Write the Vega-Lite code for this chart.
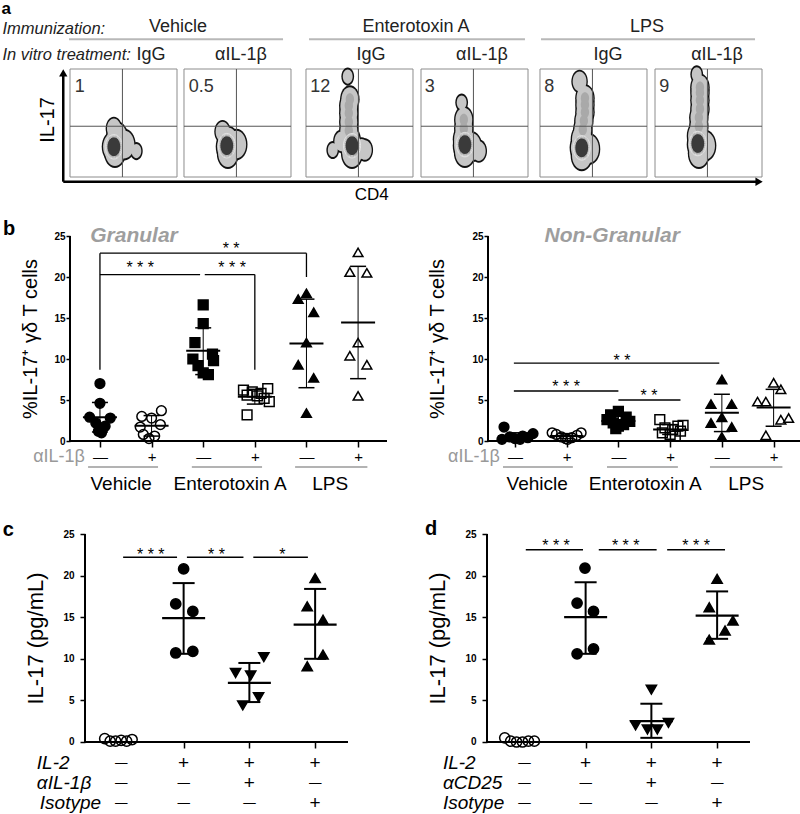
{
"$schema": "https://vega.github.io/schema/vega-lite/v6.json",
"padding": 0,
"background": "white",
"spacing": 0,
"resolve": {"scale": {"shape": "independent", "fill": "independent"}},
"config": {"view": {"stroke": null}, "font": "Liberation Sans", "text": {"font": "Liberation Sans"}, "axis": {"labelFont": "Liberation Sans", "titleFont": "Liberation Sans"}, "concat": {"spacing": 0}},
"datasets": {
"abox": [{"x":0,"x2":1,"y":0,"y2":1},{"x":1.0654,"x2":2.0654,"y":0,"y2":1},{"x":2.2056,"x2":3.2056,"y":0,"y2":1},{"x":3.2804,"x2":4.2804,"y":0,"y2":1},{"x":4.3925,"x2":5.3925,"y":0,"y2":1},{"x":5.4673,"x2":6.4673,"y":0,"y2":1}],
"aquad": [{"x":0.49,"x2":0.49,"y":0,"y2":1},{"x":0,"x2":1,"y":0.47,"y2":0.47},
{"x":1.5554,"x2":1.5554,"y":0,"y2":1},{"x":1.0654,"x2":2.0654,"y":0.47,"y2":0.47},
{"x":2.6956,"x2":2.6956,"y":0,"y2":1},{"x":2.2056,"x2":3.2056,"y":0.47,"y2":0.47},
{"x":3.7704,"x2":3.7704,"y":0,"y2":1},{"x":3.2804,"x2":4.2804,"y":0.47,"y2":0.47},
{"x":4.8825,"x2":4.8825,"y":0,"y2":1},{"x":4.3925,"x2":5.3925,"y":0.47,"y2":0.47},
{"x":5.9573,"x2":5.9573,"y":0,"y2":1},{"x":5.4673,"x2":6.4673,"y":0.47,"y2":0.47}],
"ablob": [{"x":0.40,"y":0.28,"p":"b"},{"x":0.42,"y":0.23,"p":"b"},{"x":0.44,"y":0.37,"p":"b"},{"x":0.51,"y":0.30,"p":"b"},{"x":0.41,"y":0.45,"p":"s"},{"x":0.62,"y":0.24,"p":"d"},
{"x":1.4654,"y":0.28,"p":"b"},{"x":1.4754,"y":0.22,"p":"b"},{"x":1.4754,"y":0.33,"p":"b"},{"x":1.5554,"y":0.30,"p":"b"},{"x":1.4254,"y":0.42,"p":"s"},
{"x":2.6256,"y":0.28,"p":"b"},{"x":2.6356,"y":0.22,"p":"b"},{"x":2.6156,"y":0.34,"p":"b"},{"x":2.6056,"y":0.43,"p":"t"},{"x":2.6056,"y":0.51,"p":"t"},{"x":2.6056,"y":0.59,"p":"t"},{"x":2.6056,"y":0.66,"p":"t"},{"x":2.6156,"y":0.72,"p":"t"},{"x":2.7256,"y":0.26,"p":"s"},{"x":2.7556,"y":0.25,"p":"s"},{"x":2.5356,"y":0.33,"p":"s"},{"x":2.5956,"y":0.93,"p":"d"},{"x":2.4556,"y":0.25,"p":"d"},
{"x":3.6804,"y":0.29,"p":"b"},{"x":3.6904,"y":0.23,"p":"b"},{"x":3.6804,"y":0.35,"p":"b"},{"x":3.7504,"y":0.28,"p":"b"},{"x":3.6804,"y":0.45,"p":"t"},{"x":3.6804,"y":0.53,"p":"t"},{"x":3.8204,"y":0.24,"p":"s"},{"x":3.6604,"y":0.69,"p":"d"},
{"x":4.7725,"y":0.27,"p":"b"},{"x":4.7825,"y":0.20,"p":"b"},{"x":4.7825,"y":0.35,"p":"b"},{"x":4.8525,"y":0.26,"p":"b"},{"x":4.7925,"y":0.44,"p":"t"},{"x":4.8025,"y":0.52,"p":"t"},{"x":4.8125,"y":0.60,"p":"t"},{"x":4.8125,"y":0.67,"p":"t"},{"x":4.8125,"y":0.73,"p":"t"},{"x":4.7625,"y":0.885,"p":"s"},
{"x":5.8673,"y":0.30,"p":"b"},{"x":5.8773,"y":0.22,"p":"b"},{"x":5.8673,"y":0.38,"p":"b"},{"x":5.9373,"y":0.29,"p":"b"},{"x":5.8773,"y":0.47,"p":"t"},{"x":5.8773,"y":0.55,"p":"t"},{"x":5.8873,"y":0.63,"p":"t"},{"x":5.8873,"y":0.71,"p":"t"},{"x":5.8873,"y":0.78,"p":"t"},{"x":5.8873,"y":0.83,"p":"t"},{"x":5.8573,"y":0.95,"p":"d"}],
"arings": [{"x":0.41,"y":0.28,"r":1},{"x":0.41,"y":0.28,"r":2},{"x":0.41,"y":0.28,"r":3},{"x":0.41,"y":0.28,"r":4},
{"x":1.4654,"y":0.29,"r":1},{"x":1.4654,"y":0.29,"r":2},{"x":1.4654,"y":0.29,"r":3},{"x":1.4654,"y":0.29,"r":4},
{"x":2.6356,"y":0.29,"r":1},{"x":2.6356,"y":0.29,"r":2},{"x":2.6356,"y":0.29,"r":3},{"x":2.6356,"y":0.29,"r":4},
{"x":3.6904,"y":0.30,"r":1},{"x":3.6904,"y":0.30,"r":2},{"x":3.6904,"y":0.30,"r":3},{"x":3.6904,"y":0.30,"r":4},
{"x":4.7825,"y":0.27,"r":1},{"x":4.7825,"y":0.27,"r":2},{"x":4.7825,"y":0.27,"r":3},{"x":4.7825,"y":0.27,"r":4},
{"x":5.8673,"y":0.31,"r":1},{"x":5.8673,"y":0.31,"r":2},{"x":5.8673,"y":0.31,"r":3},{"x":5.8673,"y":0.31,"r":4}],
"gp": [{"x":1.0,"y":7.0,"k":1},{"x":1.0,"y":4.6,"k":1},{"x":0.8,"y":2.9,"k":1},{"x":1.2,"y":2.8,"k":1},{"x":0.92,"y":2.2,"k":1},{"x":1.1,"y":1.8,"k":1},{"x":0.97,"y":1.2,"k":1},{"x":1.03,"y":1.0,"k":1},
{"x":2.19,"y":3.7,"k":2},{"x":1.81,"y":3.0,"k":2},{"x":2.0,"y":2.8,"k":2},{"x":2.17,"y":2.0,"k":2},{"x":1.78,"y":1.7,"k":2},{"x":1.84,"y":0.8,"k":2},{"x":2.06,"y":0.6,"k":2},{"x":1.95,"y":0.3,"k":2},
{"x":3.0,"y":16.6,"k":3},{"x":3.0,"y":14.3,"k":3},{"x":2.84,"y":12.0,"k":3},{"x":3.18,"y":10.6,"k":3},{"x":2.8,"y":10.0,"k":3},{"x":3.2,"y":9.8,"k":3},{"x":2.9,"y":9.2,"k":3},{"x":3.0,"y":8.3,"k":3},{"x":3.1,"y":8.1,"k":3},
{"x":4.25,"y":6.4,"k":4},{"x":3.78,"y":6.2,"k":4},{"x":3.95,"y":6.0,"k":4},{"x":4.12,"y":5.8,"k":4},{"x":3.85,"y":5.6,"k":4},{"x":4.05,"y":5.5,"k":4},{"x":4.18,"y":5.2,"k":4},{"x":4.28,"y":4.8,"k":4},{"x":3.85,"y":3.2,"k":4},
{"x":5.0,"y":18.0,"k":5},{"x":4.84,"y":17.3,"k":5},{"x":5.14,"y":15.7,"k":5},{"x":5.0,"y":12.0,"k":5},{"x":4.84,"y":9.3,"k":5},{"x":5.14,"y":7.7,"k":5},{"x":5.0,"y":3.4,"k":5},
{"x":6.0,"y":23.0,"k":6},{"x":5.84,"y":20.6,"k":6},{"x":6.17,"y":20.5,"k":6},{"x":6.0,"y":12.0,"k":6},{"x":5.84,"y":10.4,"k":6},{"x":6.17,"y":9.3,"k":6},{"x":6.0,"y":5.5,"k":6}],
"gs": [{"x":1,"y":2.9,"lo":1.1,"hi":4.7},{"x":2,"y":1.85,"lo":0.6,"hi":3.1},{"x":3,"y":11.0,"lo":8.1,"hi":13.8},{"x":4,"y":5.4,"lo":4.5,"hi":6.3},{"x":5,"y":11.9,"lo":6.5,"hi":17.3},{"x":6,"y":14.45,"lo":7.6,"hi":21.3}],
"np": [{"x":0.79,"y":1.7,"k":1},{"x":1.35,"y":0.9,"k":1},{"x":1.15,"y":0.6,"k":1},{"x":0.9,"y":0.5,"k":1},{"x":1.25,"y":0.4,"k":1},{"x":1.0,"y":0.3,"k":1},{"x":0.75,"y":0.2,"k":1},{"x":1.1,"y":0.2,"k":1},
{"x":1.72,"y":1.0,"k":2},{"x":2.28,"y":1.0,"k":2},{"x":1.8,"y":0.8,"k":2},{"x":2.2,"y":0.7,"k":2},{"x":1.9,"y":0.5,"k":2},{"x":2.1,"y":0.4,"k":2},{"x":1.98,"y":0.3,"k":2},{"x":2.02,"y":0.2,"k":2},
{"x":3.0,"y":3.6,"k":3},{"x":2.85,"y":3.2,"k":3},{"x":3.15,"y":2.9,"k":3},{"x":2.78,"y":2.6,"k":3},{"x":3.22,"y":2.4,"k":3},{"x":2.9,"y":2.2,"k":3},{"x":3.1,"y":2.0,"k":3},{"x":3.0,"y":1.8,"k":3},{"x":2.95,"y":1.5,"k":3},
{"x":3.8,"y":2.6,"k":4},{"x":4.25,"y":1.9,"k":4},{"x":4.15,"y":1.8,"k":4},{"x":3.9,"y":1.6,"k":4},{"x":4.05,"y":1.4,"k":4},{"x":4.2,"y":1.2,"k":4},{"x":3.85,"y":1.0,"k":4},{"x":4.0,"y":0.8,"k":4},{"x":4.1,"y":0.6,"k":4},
{"x":5.0,"y":7.5,"k":5},{"x":4.79,"y":4.5,"k":5},{"x":5.19,"y":4.5,"k":5},{"x":5.0,"y":2.9,"k":5},{"x":4.79,"y":2.2,"k":5},{"x":5.19,"y":1.7,"k":5},{"x":5.0,"y":0.5,"k":5},
{"x":6.0,"y":7.1,"k":6},{"x":6.14,"y":6.3,"k":6},{"x":5.69,"y":4.8,"k":6},{"x":5.85,"y":4.8,"k":6},{"x":6.14,"y":2.6,"k":6},{"x":6.29,"y":2.8,"k":6},{"x":5.85,"y":0.7,"k":6}],
"ns": [{"x":1,"y":0.6,"lo":0.25,"hi":1.0},{"x":2,"y":0.6,"lo":0.3,"hi":0.9},{"x":3,"y":2.45,"lo":1.8,"hi":3.1},{"x":4,"y":1.4,"lo":0.8,"hi":2.0},{"x":5,"y":3.45,"lo":1.15,"hi":5.7},{"x":6,"y":4.1,"lo":1.8,"hi":6.3}],
"cp": [{"x":0.8,"y":0.4,"g":1},{"x":0.883,"y":0.1,"g":1},{"x":0.966,"y":0.1,"g":1},{"x":1.05,"y":0.2,"g":1},{"x":1.133,"y":0.1,"g":1},{"x":1.216,"y":0.3,"g":1},
{"x":2.0,"y":20.8,"g":2},{"x":1.88,"y":16.6,"g":2},{"x":2.14,"y":15.7,"g":2},{"x":1.88,"y":10.7,"g":2},{"x":2.14,"y":10.9,"g":2},
{"x":3.22,"y":10.2,"g":3},{"x":2.79,"y":8.3,"g":3},{"x":3.02,"y":8.0,"g":3},{"x":3.14,"y":5.4,"g":3},{"x":2.9,"y":4.4,"g":3},
{"x":4.0,"y":19.7,"g":4},{"x":3.88,"y":16.3,"g":4},{"x":4.12,"y":14.7,"g":4},{"x":4.12,"y":10.5,"g":4},{"x":3.88,"y":9.1,"g":4}],
"cs": [{"x":2,"y":14.9,"lo":10.6,"hi":19.1},{"x":3,"y":7.1,"lo":4.8,"hi":9.5},{"x":4,"y":14.1,"lo":10.0,"hi":18.4}],
"dp": [{"x":0.77,"y":0.5,"g":1},{"x":0.86,"y":0.1,"g":1},{"x":0.95,"y":0.0,"g":1},{"x":1.04,"y":0.0,"g":1},{"x":1.13,"y":0.1,"g":1},{"x":1.22,"y":0.1,"g":1},
{"x":1.99,"y":20.9,"g":2},{"x":1.87,"y":16.7,"g":2},{"x":2.12,"y":15.7,"g":2},{"x":1.87,"y":10.6,"g":2},{"x":2.12,"y":11.2,"g":2},
{"x":3.0,"y":6.3,"g":3},{"x":2.76,"y":2.0,"g":3},{"x":2.94,"y":1.5,"g":3},{"x":3.09,"y":1.5,"g":3},{"x":3.26,"y":2.3,"g":3},
{"x":4.0,"y":19.6,"g":4},{"x":3.88,"y":16.2,"g":4},{"x":4.24,"y":14.6,"g":4},{"x":4.12,"y":13.4,"g":4},{"x":3.88,"y":12.3,"g":4}],
"ds": [{"x":2,"y":15.0,"lo":10.6,"hi":19.2},{"x":3,"y":2.5,"lo":0.5,"hi":4.6},{"x":4,"y":15.2,"lo":12.4,"hi":18.1}]
},
"vconcat": [
{"width":800,"height":214,
 "resolve":{"scale":{"size":"independent","color":"independent"}},
 "encoding":{"x":{"field":"x","type":"quantitative","scale":{"domain":[-0.65421,6.82243],"nice":false,"zero":false},"axis":null},"y":{"field":"y","type":"quantitative","scale":{"domain":[-0.34259,1.63889],"nice":false,"zero":false},"axis":null}},
 "layer":[
  {"data":{"name":"abox"},"mark":{"type":"rect","fill":"transparent","stroke":"#8c8c8c","strokeWidth":1},"encoding":{"x2":{"field":"x2"},"y2":{"field":"y2"}}},
  {"data":{"name":"ablob"},"mark":{"type":"point","filled":true,"color":"#111","opacity":1,"shape":"M 0 -1 A 0.7 1 0 1 1 0 1 A 0.7 1 0 1 1 0 -1 Z"},"encoding":{"size":{"field":"p","type":"ordinal","scale":{"domain":["b","t","s","d"],"range":[1000,330,90,30]},"legend":null}}},
  {"data":{"name":"ablob"},"mark":{"type":"point","filled":true,"color":"#c6c6c6","opacity":1,"shape":"M 0 -1 A 0.7 1 0 1 1 0 1 A 0.7 1 0 1 1 0 -1 Z"},"encoding":{"size":{"field":"p","type":"ordinal","scale":{"domain":["b","t","s","d"],"range":[770,200,40,0]},"legend":null}}},
  {"data":{"name":"ablob"},"transform":[{"filter":"datum.p == 't'"}],"mark":{"type":"point","filled":true,"color":"#a9a9a9","opacity":1,"size":140,"shape":"M 0 -1 A 0.7 1 0 1 1 0 1 A 0.7 1 0 1 1 0 -1 Z"}},
  {"data":{"name":"arings"},"mark":{"type":"point","filled":true,"opacity":1,"stroke":"#f2f2f2","strokeWidth":0.7,"shape":"M 0 -1 A 0.7 1 0 1 1 0 1 A 0.7 1 0 1 1 0 -1 Z"},"encoding":{"size":{"field":"r","type":"ordinal","scale":{"domain":[1,2,3,4],"range":[600,390,210,70]},"legend":null},"color":{"field":"r","type":"ordinal","scale":{"domain":[1,2,3,4],"range":["#a3a3a3","#808080","#5e5e5e","#3a3a3a"]},"legend":null}}},
  {"data":{"name":"aquad"},"mark":{"type":"rule","color":"#555","strokeWidth":1},"encoding":{"x2":{"field":"x2"},"y2":{"field":"y2"}}},
  {"data":{"values":[{"x":0.045,"y":0.79,"t":"1"},{"x":1.1104,"y":0.79,"t":"0.5"},{"x":2.2456,"y":0.79,"t":"12"},{"x":3.3154,"y":0.79,"t":"3"},{"x":4.4325,"y":0.79,"t":"8"},{"x":5.5073,"y":0.79,"t":"9"}]},"mark":{"type":"text","align":"left","baseline":"alphabetic","fontSize":18,"color":"#333"},"encoding":{"text":{"field":"t"}}},
  {"data":{"values":[{"x":0.757,"y":1.13,"t":"IgG"},{"x":1.598,"y":1.13,"t":"αIL-1β"},{"x":2.813,"y":1.13,"t":"IgG"},{"x":3.85,"y":1.13,"t":"αIL-1β"},{"x":5.028,"y":1.13,"t":"IgG"},{"x":6.047,"y":1.13,"t":"αIL-1β"},{"x":1.009,"y":1.389,"t":"Vehicle"},{"x":3.234,"y":1.389,"t":"Enterotoxin A"},{"x":5.393,"y":1.389,"t":"LPS"}]},"mark":{"type":"text","fontSize":18,"baseline":"middle","color":"#222"},"encoding":{"text":{"field":"t"}}},
  {"data":{"values":[{"x":-0.009,"x2":1.991,"y":1.275},{"x":2.234,"x2":4.252,"y":1.275},{"x":4.402,"x2":6.402,"y":1.275}]},"mark":{"type":"rule","color":"#b8b8b8","strokeWidth":2},"encoding":{"x2":{"field":"x2"},"y2":{"field":"y"}}},
  {"data":{"values":[{"x":-0.631,"y":1.375,"t":"Immunization:"},{"x":-0.631,"y":1.13,"t":"In vitro treatment:"}]},"mark":{"type":"text","fontSize":16.5,"fontStyle":"italic","align":"left","baseline":"middle","color":"#222"},"encoding":{"text":{"field":"t"}}},
  {"data":{"values":[{"x":-0.64,"y":1.6296,"t":"a"}]},"mark":{"type":"text","fontSize":17,"fontWeight":"bold","align":"left","baseline":"top","color":"#000"},"encoding":{"text":{"field":"t"}}},
  {"data":{"values":[{"x":-0.063,"y":-0.0435,"x2":6.44,"y2":-0.0435},{"x":-0.063,"y":-0.0435,"x2":-0.063,"y2":0.963}]},"mark":{"type":"rule","color":"#000","strokeWidth":2.5},"encoding":{"x2":{"field":"x2"},"y2":{"field":"y2"}}},
  {"data":{"values":[{"x":-0.063,"y":0.963,"s":"triangle-up"},{"x":6.44,"y":-0.0435,"s":"triangle-right"}]},"mark":{"type":"point","filled":true,"color":"#000","opacity":1,"size":70},"encoding":{"shape":{"field":"s","type":"nominal","scale":null,"legend":null}}},
  {"data":{"values":[{"x":-0.21,"y":0.528,"t":"IL-17"}]},"mark":{"type":"text","fontSize":20,"angle":270,"baseline":"middle","color":"#000"},"encoding":{"text":{"field":"t"}}},
  {"data":{"values":[{"x":2.82,"y":-0.167,"t":"CD4"}]},"mark":{"type":"text","fontSize":17,"baseline":"middle","color":"#000"},"encoding":{"text":{"field":"t"}}}
 ]},
{"hconcat":[
 {"width":405,"height":286,
  "encoding":{
   "x":{"field":"x","type":"quantitative","scale":{"domain":[-0.93584,6.90864],"nice":false,"zero":false},"axis":{"orient":"bottom","offset":-59,"values":[1,2,3,4,5,6],"labelExpr":"datum.value % 2 == 1 ? '—' : '+'","title":null,"grid":false,"domain":false,"tickColor":"#000","tickWidth":1.5,"tickSize":6,"labelFontSize":15,"labelColor":"#000","labelPadding":2,"labelFlush":false}},
   "y":{"field":"y","type":"quantitative","scale":{"domain":[-7.195,27.683],"nice":false,"zero":false},"axis":{"orient":"left","offset":-70,"values":[0,5,10,15,20,25],"title":"%IL-17⁺ γδ T cells","grid":false,"domain":false,"tickColor":"#000","tickWidth":1.5,"tickSize":4,"labelFontSize":10,"labelFontWeight":"bold","labelColor":"#000","labelPadding":1,"titleFontSize":20,"titleFontWeight":"normal","titleColor":"#000","titleX":-40,"titleY":124.5,"titleBaseline":"middle","titleAlign":"center"}}
  },
  "layer":[
   {"data":{"values":[{"x":0.42,"x2":6.56,"y":0,"y2":0},{"x":0.42,"x2":0.42,"y":0,"y2":25}]},"mark":{"type":"rule","color":"#000","strokeWidth":2},"encoding":{"x2":{"field":"x2"},"y2":{"field":"y2"}}},
   {"data":{"values":[{"x":1,"x2":5,"y":22.9,"y2":22.9},{"x":5,"x2":5,"y":22.9,"y2":20.0},{"x":1,"x2":1,"y":22.9,"y2":8.7},{"x":1,"x2":2.94,"y":20.3,"y2":20.3},{"x":3.03,"x2":4,"y":20.3,"y2":20.3},{"x":4,"x2":4,"y":20.3,"y2":8.7}]},"mark":{"type":"rule","color":"#000","strokeWidth":1.3},"encoding":{"x2":{"field":"x2"},"y2":{"field":"y2"}}},
   {"data":{"name":"gp"},"mark":{"type":"point","size":95,"stroke":"#000","strokeWidth":1.5,"opacity":1},"encoding":{"shape":{"field":"k","type":"nominal","scale":{"domain":[1,2,3,4,5,6],"range":["circle","circle","square","square","triangle-up","triangle-up"]},"legend":null},"fill":{"field":"k","type":"nominal","scale":{"domain":[1,2,3,4,5,6],"range":["#000","transparent","#000","transparent","#000","transparent"]},"legend":null}}},
   {"data":{"name":"gs"},"mark":{"type":"rule","color":"#000","strokeWidth":1},"encoding":{"y":{"field":"lo","type":"quantitative"},"y2":{"field":"hi"}}},
   {"data":{"name":"gs"},"mark":{"type":"tick","orient":"horizontal","size":34,"thickness":2,"color":"#000","opacity":1}},
   {"data":{"name":"gs"},"mark":{"type":"tick","orient":"horizontal","size":16,"thickness":1.5,"color":"#000","opacity":1},"encoding":{"y":{"field":"lo","type":"quantitative"}}},
   {"data":{"name":"gs"},"mark":{"type":"tick","orient":"horizontal","size":16,"thickness":1.5,"color":"#000","opacity":1},"encoding":{"y":{"field":"hi","type":"quantitative"}}},
   {"data":{"values":[{"x":0.77,"x2":2.125,"y":-3.17},{"x":2.78,"x2":4.14,"y":-3.17},{"x":4.78,"x2":6.18,"y":-3.17}]},"mark":{"type":"rule","color":"#b3b3b3","strokeWidth":2},"encoding":{"x2":{"field":"x2"},"y2":{"field":"y"}}},
   {"data":{"values":[{"x":3.54,"y":22.8,"t":"* *"},{"x":1.78,"y":20.5,"t":"* * *"},{"x":3.56,"y":20.5,"t":"* * *"}]},"mark":{"type":"text","fontSize":16,"baseline":"alphabetic","color":"#000"},"encoding":{"text":{"field":"t"}}},
   {"data":{"values":[{"x":1.66,"y":25.0,"t":"Granular"}]},"mark":{"type":"text","fontSize":21,"fontWeight":"bold","fontStyle":"italic","baseline":"middle","color":"#9e9e9e"},"encoding":{"text":{"field":"t"}}},
   {"data":{"values":[{"x":-0.878,"y":25.1,"t":"b"}]},"mark":{"type":"text","fontSize":20,"fontWeight":"bold","align":"left","baseline":"alphabetic","color":"#000"},"encoding":{"text":{"field":"t"}}},
   {"data":{"values":[{"x":0.71,"y":-1.95,"t":"αIL-1β"}]},"mark":{"type":"text","fontSize":18,"align":"right","baseline":"middle","color":"#999"},"encoding":{"text":{"field":"t"}}},
   {"data":{"values":[{"x":1.41,"y":-5.2,"t":"Vehicle"},{"x":3.52,"y":-5.2,"t":"Enterotoxin A"},{"x":5.46,"y":-5.2,"t":"LPS"}]},"mark":{"type":"text","fontSize":19,"baseline":"middle","color":"#000"},"encoding":{"text":{"field":"t"}}}
  ]},
 {"width":395,"height":286,
  "encoding":{
   "x":{"field":"x","type":"quantitative","scale":{"domain":[-1.12414,6.51004],"nice":false,"zero":false},"axis":{"orient":"bottom","offset":-59,"values":[1,2,3,4,5,6],"labelExpr":"datum.value % 2 == 1 ? '—' : '+'","title":null,"grid":false,"domain":false,"tickColor":"#000","tickWidth":1.5,"tickSize":6,"labelFontSize":15,"labelColor":"#000","labelPadding":2,"labelFlush":false}},
   "y":{"field":"y","type":"quantitative","scale":{"domain":[-7.195,27.683],"nice":false,"zero":false},"axis":{"orient":"left","offset":-83,"values":[0,5,10,15,20,25],"title":"%IL-17⁺ γδ T cells","grid":false,"domain":false,"tickColor":"#000","tickWidth":1.5,"tickSize":4,"labelFontSize":10,"labelFontWeight":"bold","labelColor":"#000","labelPadding":1,"titleFontSize":20,"titleFontWeight":"normal","titleColor":"#000","titleX":-51,"titleY":124.5,"titleBaseline":"middle","titleAlign":"center"}}
  },
  "layer":[
   {"data":{"values":[{"x":0.48,"x2":6.51,"y":0,"y2":0},{"x":0.48,"x2":0.48,"y":0,"y2":25}]},"mark":{"type":"rule","color":"#000","strokeWidth":2},"encoding":{"x2":{"field":"x2"},"y2":{"field":"y2"}}},
   {"data":{"values":[{"x":0.98,"x2":4.95,"y":9.5,"y2":9.5},{"x":0.98,"x2":3.0,"y":6.1,"y2":6.1},{"x":3.0,"x2":4.2,"y":5.0,"y2":5.0}]},"mark":{"type":"rule","color":"#000","strokeWidth":1.3},"encoding":{"x2":{"field":"x2"},"y2":{"field":"y2"}}},
   {"data":{"name":"np"},"mark":{"type":"point","size":95,"stroke":"#000","strokeWidth":1.5,"opacity":1},"encoding":{"shape":{"field":"k","type":"nominal","scale":{"domain":[1,2,3,4,5,6],"range":["circle","circle","square","square","triangle-up","triangle-up"]},"legend":null},"fill":{"field":"k","type":"nominal","scale":{"domain":[1,2,3,4,5,6],"range":["#000","transparent","#000","transparent","#000","transparent"]},"legend":null}}},
   {"data":{"name":"ns"},"mark":{"type":"rule","color":"#000","strokeWidth":1},"encoding":{"y":{"field":"lo","type":"quantitative"},"y2":{"field":"hi"}}},
   {"data":{"name":"ns"},"mark":{"type":"tick","orient":"horizontal","size":34,"thickness":2,"color":"#000","opacity":1}},
   {"data":{"name":"ns"},"mark":{"type":"tick","orient":"horizontal","size":16,"thickness":1.5,"color":"#000","opacity":1},"encoding":{"y":{"field":"lo","type":"quantitative"}}},
   {"data":{"name":"ns"},"mark":{"type":"tick","orient":"horizontal","size":16,"thickness":1.5,"color":"#000","opacity":1},"encoding":{"y":{"field":"hi","type":"quantitative"}}},
   {"data":{"values":[{"x":0.77,"x2":2.12,"y":-3.17},{"x":2.78,"x2":4.15,"y":-3.17},{"x":4.77,"x2":6.17,"y":-3.17}]},"mark":{"type":"rule","color":"#b3b3b3","strokeWidth":2},"encoding":{"x2":{"field":"x2"},"y2":{"field":"y"}}},
   {"data":{"values":[{"x":3.07,"y":9.15,"t":"* *"},{"x":1.99,"y":5.97,"t":"* * *"},{"x":3.59,"y":4.87,"t":"* *"}]},"mark":{"type":"text","fontSize":16,"baseline":"alphabetic","color":"#000"},"encoding":{"text":{"field":"t"}}},
   {"data":{"values":[{"x":2.88,"y":25.0,"t":"Non-Granular"}]},"mark":{"type":"text","fontSize":21,"fontWeight":"bold","fontStyle":"italic","baseline":"middle","color":"#9e9e9e"},"encoding":{"text":{"field":"t"}}},
   {"data":{"values":[{"x":0.71,"y":-1.95,"t":"αIL-1β"}]},"mark":{"type":"text","fontSize":18,"align":"right","baseline":"middle","color":"#999"},"encoding":{"text":{"field":"t"}}},
   {"data":{"values":[{"x":1.43,"y":-5.2,"t":"Vehicle"},{"x":3.52,"y":-5.2,"t":"Enterotoxin A"},{"x":5.47,"y":-5.2,"t":"LPS"}]},"mark":{"type":"text","fontSize":19,"baseline":"middle","color":"#000"},"encoding":{"text":{"field":"t"}}}
  ]}
]},
{"hconcat":[
 {"width":405,"height":314,
  "encoding":{
   "x":{"field":"x","type":"quantitative","scale":{"domain":[-0.79278,5.36692],"nice":false,"zero":false},"axis":{"orient":"bottom","offset":-72,"values":[2,3,4],"labels":false,"title":null,"grid":false,"domain":false,"tickColor":"#000","tickWidth":1.5,"tickSize":6}},
   "y":{"field":"y","type":"quantitative","scale":{"domain":[-8.654,29.087],"nice":false,"zero":false},"axis":{"orient":"left","offset":-85,"values":[0,5,10,15,20,25],"title":"IL-17 (pg/mL)","grid":false,"domain":false,"tickColor":"#000","tickWidth":1.5,"tickSize":5,"labelFontSize":10,"labelFontWeight":"bold","labelColor":"#000","labelPadding":6,"titleFontSize":22,"titleFontWeight":"normal","titleColor":"#000","titleX":-50,"titleY":138,"titleBaseline":"middle","titleAlign":"center"}}
  },
  "layer":[
   {"data":{"values":[{"x":0.5,"x2":4.5,"y":0,"y2":0},{"x":0.5,"x2":0.5,"y":0,"y2":25}]},"mark":{"type":"rule","color":"#000","strokeWidth":2},"encoding":{"x2":{"field":"x2"},"y2":{"field":"y2"}}},
   {"data":{"values":[{"x":1.08,"x2":1.9,"y":22.2},{"x":2.05,"x2":2.91,"y":22.2},{"x":3.06,"x2":3.89,"y":22.2}]},"mark":{"type":"rule","color":"#000","strokeWidth":1.5},"encoding":{"x2":{"field":"x2"},"y2":{"field":"y"}}},
   {"data":{"name":"cp"},"mark":{"type":"point","size":105,"stroke":"#000","strokeWidth":1.5,"opacity":1},"encoding":{"shape":{"field":"g","type":"nominal","scale":{"domain":[1,2,3,4],"range":["circle","circle","triangle-down","triangle-up"]},"legend":null},"fill":{"field":"g","type":"nominal","scale":{"domain":[1,2,3,4],"range":["transparent","#000","#000","#000"]},"legend":null}}},
   {"data":{"name":"cs"},"mark":{"type":"rule","color":"#000","strokeWidth":2},"encoding":{"y":{"field":"lo","type":"quantitative"},"y2":{"field":"hi"}}},
   {"data":{"name":"cs"},"mark":{"type":"tick","orient":"horizontal","size":43,"thickness":2.2,"color":"#000","opacity":1}},
   {"data":{"name":"cs"},"mark":{"type":"tick","orient":"horizontal","size":22,"thickness":2,"color":"#000","opacity":1},"encoding":{"y":{"field":"lo","type":"quantitative"}}},
   {"data":{"name":"cs"},"mark":{"type":"tick","orient":"horizontal","size":22,"thickness":2,"color":"#000","opacity":1},"encoding":{"y":{"field":"hi","type":"quantitative"}}},
   {"data":{"values":[{"x":1.5,"y":21.93,"t":"* * *"},{"x":2.5,"y":21.93,"t":"* *"},{"x":3.5,"y":21.93,"t":"*"}]},"mark":{"type":"text","fontSize":16,"baseline":"alphabetic","color":"#000"},"encoding":{"text":{"field":"t"}}},
   {"data":{"values":[{"x":-0.752,"y":24.76,"t":"c"}]},"mark":{"type":"text","fontSize":20,"fontWeight":"bold","align":"left","baseline":"alphabetic","color":"#000"},"encoding":{"text":{"field":"t"}}},
   {"data":{"values":[{"x":-0.233,"y":-2.52,"t":"IL-2"},{"x":-0.233,"y":-4.93,"t":"αIL-1β"},{"x":-0.187,"y":-7.33,"t":"Isotype"}]},"mark":{"type":"text","fontSize":19,"fontStyle":"italic","align":"left","baseline":"middle","color":"#000"},"encoding":{"text":{"field":"t"}}},
   {"data":{"values":[{"x":2,"y":-2.52,"t":"+"},{"x":3,"y":-2.52,"t":"+"},{"x":4,"y":-2.52,"t":"+"},{"x":3,"y":-4.93,"t":"+"},{"x":4,"y":-7.33,"t":"+"}]},"mark":{"type":"text","fontSize":19,"baseline":"middle","color":"#000"},"encoding":{"text":{"field":"t"}}},
   {"data":{"values":[{"x":1.05,"y":-2.52,"t":"—"},{"x":1.05,"y":-4.93,"t":"—"},{"x":2,"y":-4.93,"t":"—"},{"x":4,"y":-4.93,"t":"—"},{"x":1.05,"y":-7.33,"t":"—"},{"x":2,"y":-7.33,"t":"—"},{"x":3,"y":-7.33,"t":"—"}]},"mark":{"type":"text","fontSize":12.5,"baseline":"middle","color":"#000"},"encoding":{"text":{"field":"t"}}}
  ]},
 {"width":395,"height":314,
  "encoding":{
   "x":{"field":"x","type":"quantitative","scale":{"domain":[-0.74715,5.26045],"nice":false,"zero":false},"axis":{"orient":"bottom","offset":-72,"values":[2,3,4],"labels":false,"title":null,"grid":false,"domain":false,"tickColor":"#000","tickWidth":1.5,"tickSize":6}},
   "y":{"field":"y","type":"quantitative","scale":{"domain":[-8.654,29.087],"nice":false,"zero":false},"axis":{"orient":"left","offset":-82,"values":[0,5,10,15,20,25],"title":"IL-17 (pg/mL)","grid":false,"domain":false,"tickColor":"#000","tickWidth":1.5,"tickSize":5,"labelFontSize":10,"labelFontWeight":"bold","labelColor":"#000","labelPadding":6,"titleFontSize":22,"titleFontWeight":"normal","titleColor":"#000","titleX":-50,"titleY":138,"titleBaseline":"middle","titleAlign":"center"}}
  },
  "layer":[
   {"data":{"values":[{"x":0.5,"x2":4.5,"y":0,"y2":0},{"x":0.5,"x2":0.5,"y":0,"y2":25}]},"mark":{"type":"rule","color":"#000","strokeWidth":2},"encoding":{"x2":{"field":"x2"},"y2":{"field":"y2"}}},
   {"data":{"values":[{"x":1.09,"x2":1.96,"y":23.1},{"x":2.2,"x2":3.08,"y":23.1},{"x":3.24,"x2":4.12,"y":23.1}]},"mark":{"type":"rule","color":"#000","strokeWidth":1.5},"encoding":{"x2":{"field":"x2"},"y2":{"field":"y"}}},
   {"data":{"name":"dp"},"mark":{"type":"point","size":105,"stroke":"#000","strokeWidth":1.5,"opacity":1},"encoding":{"shape":{"field":"g","type":"nominal","scale":{"domain":[1,2,3,4],"range":["circle","circle","triangle-down","triangle-up"]},"legend":null},"fill":{"field":"g","type":"nominal","scale":{"domain":[1,2,3,4],"range":["transparent","#000","#000","#000"]},"legend":null}}},
   {"data":{"name":"ds"},"mark":{"type":"rule","color":"#000","strokeWidth":2},"encoding":{"y":{"field":"lo","type":"quantitative"},"y2":{"field":"hi"}}},
   {"data":{"name":"ds"},"mark":{"type":"tick","orient":"horizontal","size":43,"thickness":2.2,"color":"#000","opacity":1}},
   {"data":{"name":"ds"},"mark":{"type":"tick","orient":"horizontal","size":22,"thickness":2,"color":"#000","opacity":1},"encoding":{"y":{"field":"lo","type":"quantitative"}}},
   {"data":{"name":"ds"},"mark":{"type":"tick","orient":"horizontal","size":22,"thickness":2,"color":"#000","opacity":1},"encoding":{"y":{"field":"hi","type":"quantitative"}}},
   {"data":{"values":[{"x":1.55,"y":23.0,"t":"* * *"},{"x":2.61,"y":23.0,"t":"* * *"},{"x":3.68,"y":23.0,"t":"* * *"}]},"mark":{"type":"text","fontSize":16,"baseline":"alphabetic","color":"#000"},"encoding":{"text":{"field":"t"}}},
   {"data":{"values":[{"x":-0.444,"y":24.88,"t":"d"}]},"mark":{"type":"text","fontSize":20,"fontWeight":"bold","align":"left","baseline":"alphabetic","color":"#000"},"encoding":{"text":{"field":"t"}}},
   {"data":{"values":[{"x":-0.17,"y":-2.52,"t":"IL-2"},{"x":-0.17,"y":-4.93,"t":"αCD25"},{"x":-0.17,"y":-7.33,"t":"Isotype"}]},"mark":{"type":"text","fontSize":19,"fontStyle":"italic","align":"left","baseline":"middle","color":"#000"},"encoding":{"text":{"field":"t"}}},
   {"data":{"values":[{"x":2,"y":-2.52,"t":"+"},{"x":3,"y":-2.52,"t":"+"},{"x":4,"y":-2.52,"t":"+"},{"x":3,"y":-4.93,"t":"+"},{"x":4,"y":-7.33,"t":"+"}]},"mark":{"type":"text","fontSize":19,"baseline":"middle","color":"#000"},"encoding":{"text":{"field":"t"}}},
   {"data":{"values":[{"x":1.07,"y":-2.52,"t":"—"},{"x":1.07,"y":-4.93,"t":"—"},{"x":2,"y":-4.93,"t":"—"},{"x":4,"y":-4.93,"t":"—"},{"x":1.07,"y":-7.33,"t":"—"},{"x":2,"y":-7.33,"t":"—"},{"x":3,"y":-7.33,"t":"—"}]},"mark":{"type":"text","fontSize":12.5,"baseline":"middle","color":"#000"},"encoding":{"text":{"field":"t"}}}
  ]}
]}
]
}
